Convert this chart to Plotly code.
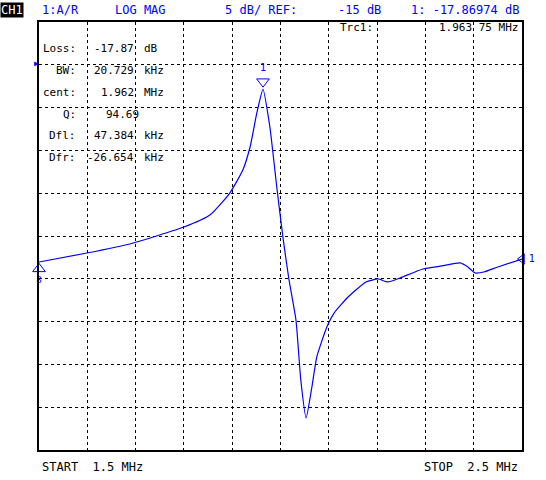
import plotly.graph_objects as go

freq_mhz = [1.500, 1.599, 1.688, 1.800, 1.854, 1.895, 1.922, 1.937, 1.951, 1.96375,
            1.978, 1.993, 2.005, 2.017, 2.032, 2.042, 2.053, 2.065, 2.075, 2.096,
            2.111, 2.140, 2.177, 2.202, 2.222, 2.247, 2.295, 2.334, 2.372, 2.388,
            2.403, 2.421, 2.450, 2.500]
mag_db = [-38.04, -36.99, -35.93, -33.95, -32.55, -29.98, -27.29, -24.60, -20.63, -17.87,
          -22.27, -29.63, -35.12, -39.91, -44.81, -51.82, -56.26, -52.64, -49.14, -45.63,
          -44.00, -42.13, -40.37, -40.02, -40.37, -39.91, -38.86, -38.50, -38.15, -38.62,
          -39.32, -39.21, -38.62, -37.69]

info_labels = ["Loss:", "BW:", "cent:", "Q:", "Dfl:", "Dfr:"]
info_numbers = ["-17.87", "20.729", "1.962", "94.69", "47.384", "-26.654"]
info_units = ["dB", "kHz", "MHz", "", "kHz", "kHz"]

BLUE = "#0000ff"
MONO = "DejaVu Sans Mono"

fig = go.Figure()
fig.add_trace(go.Scatter(x=freq_mhz, y=mag_db, mode="lines",
                         line=dict(color=BLUE, width=1.2, shape="spline", smoothing=0.5)))
# markers
fig.add_trace(go.Scatter(x=[freq_mhz[9]], y=[mag_db[9] + 0.9], mode="markers+text",
                         marker=dict(symbol="triangle-down-open", size=11, color=BLUE),
                         text=["1"], textposition="top center",
                         textfont=dict(family=MONO, size=10, color=BLUE)))
fig.add_trace(go.Scatter(x=[freq_mhz[0]], y=[mag_db[0] - 0.8], mode="markers+text",
                         marker=dict(symbol="triangle-up-open", size=11, color=BLUE),
                         text=["8"], textposition="bottom center",
                         textfont=dict(family=MONO, size=9, color=BLUE), cliponaxis=False))
fig.add_trace(go.Scatter(x=[freq_mhz[-1]], y=[mag_db[-1]], mode="markers+text",
                         marker=dict(symbol="triangle-left-open", size=9, color=BLUE),
                         text=["1"], textposition="middle right",
                         textfont=dict(family=MONO, size=10, color=BLUE), cliponaxis=False))

anns = []
def txt(x, y, s, color="black", xanchor="left", size=12, **kw):
    anns.append(dict(x=x, y=y, xref="paper", yref="paper", text=s, showarrow=False,
                     xanchor=xanchor, yanchor="middle",
                     font=dict(family=MONO, size=size, color=color), **kw))

# paper coords: plot spans x 39..522 px, y 22..450 px
def px(x):
    return (x - 39) / 483
def py(y):
    return (450 - y) / 428

txt(px(0), py(10), "CH1", color="white", bgcolor="black", borderpad=0)
txt(px(40), py(10), "1:A/R", color=BLUE)
txt(px(113), py(10), "LOG MAG", color=BLUE)
txt(px(223), py(10), "5 dB/ REF:", color=BLUE)
txt(px(336), py(10), "-15 dB", color=BLUE)
txt(px(521), py(10), "1: -17.86974 dB", color=BLUE, xanchor="right")
txt(px(338), py(28), "Trc1:", size=11)
txt(px(520), py(28), "1.963 75 MHz", xanchor="right", size=11)
for i, (lab, num, unit) in enumerate(zip(info_labels, info_numbers, info_units)):
    y = 49 + i * 21.7
    txt(px(78), py(y), lab, xanchor="right", size=11)
    txt(px(141 if not unit else 136), py(y), num, xanchor="right", size=11)
    if unit:
        txt(px(142), py(y), unit, size=11)
txt(px(40), py(467), "START  1.5 MHz")
txt(px(520), py(467), "STOP  2.5 MHz", xanchor="right")
txt(px(32), py(64), "▶", color=BLUE, size=8)

fig.update_layout(
    width=546, height=480, showlegend=False,
    paper_bgcolor="white", plot_bgcolor="white",
    margin=dict(l=39, r=24, t=22, b=30),
    annotations=anns,
    xaxis=dict(range=[1.5, 2.5], dtick=0.1, showticklabels=False, ticks="",
               showgrid=True, griddash="dot", gridcolor="black", gridwidth=1,
               zeroline=False, showline=True, linecolor="black", linewidth=1.5, mirror=True),
    yaxis=dict(range=[-60, -10], dtick=5, showticklabels=False, ticks="",
               showgrid=True, griddash="dot", gridcolor="black", gridwidth=1,
               zeroline=False, showline=True, linecolor="black", linewidth=1.5, mirror=True),
)

fig.write_html("out.html", config={"displayModeBar": False},
               post_script="document.body.style.margin='0';")
